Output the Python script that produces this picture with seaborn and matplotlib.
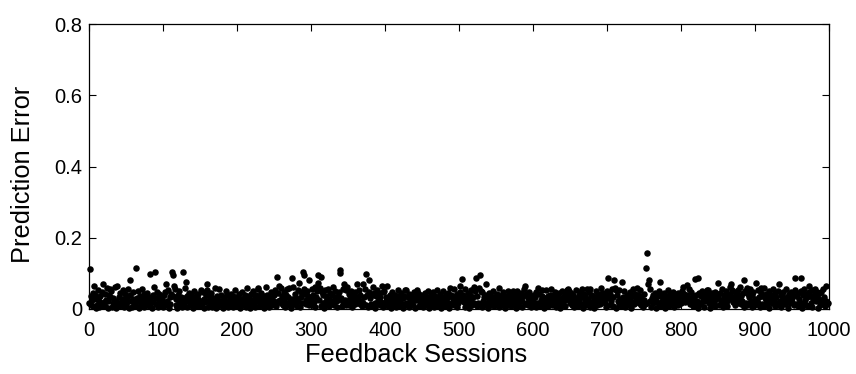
import numpy as np
import pandas as pd
import matplotlib
matplotlib.use("Agg")
import matplotlib.pyplot as plt
import seaborn as sns

# Per-session prediction error, in thousandths (sessions 0..999)
band_error_milli = [
    16, 4, 35, 10, 25, 46, 7, 18, 40, 3, 29, 12, 53, 21, 5, 36, 14, 48, 8, 31,
    20, 43, 9, 26, 58, 4, 23, 38, 13, 34, 49, 6, 17, 30, 10, 61, 22, 3, 39, 16,
    33, 8, 44, 18, 27, 12, 52, 5, 25, 42,
    9, 34, 20, 56, 4, 14, 38, 23, 6, 47, 29, 12, 18, 40, 8, 31, 51, 3, 22, 36,
    16, 57, 10, 27, 43, 5, 21, 35, 13, 46, 25, 8, 55, 17, 33, 4, 39, 20, 62, 12,
    30, 14, 48, 6, 26, 42, 18, 9, 34, 23,
    5, 38, 17, 47, 27, 10, 22, 52, 3, 33, 14, 43, 25, 8, 35, 20, 57, 12, 29, 4,
    40, 18, 49, 9, 23, 34, 6, 44, 16, 30, 60, 13, 36, 5, 21, 46, 26, 10, 39, 17,
    31, 3, 51, 22, 12, 35, 8, 27, 42, 18,
    23, 9, 33, 16, 48, 4, 29, 20, 39, 12, 53, 6, 25, 36, 14, 44, 5, 21, 31, 10,
    46, 17, 3, 35, 26, 8, 56, 13, 22, 40, 18, 4, 34, 27, 12, 49, 16, 38, 6, 23,
    30, 9, 43, 20, 5, 36, 14, 52, 25, 8,
    34, 13, 22, 42, 4, 27, 18, 47, 10, 31, 16, 38, 6, 25, 58, 12, 35, 20, 3, 43,
    26, 9, 49, 17, 30, 5, 39, 21, 14, 55, 8, 33, 23, 46, 12, 29, 4, 36, 18, 61,
    13, 40, 25, 6, 34, 17, 48, 10, 27, 21,
    38, 14, 52, 8, 30, 22, 44, 4, 26, 60, 18, 35, 10, 47, 25, 6, 40, 16, 56, 33,
    12, 49, 21, 3, 36, 27, 62, 13, 43, 20, 31, 9, 53, 23, 39, 5, 34, 48, 17, 29,
    57, 8, 42, 25, 14, 51, 35, 10, 46, 21,
    27, 55, 12, 39, 20, 62, 6, 34, 49, 16, 43, 25, 58, 9, 31, 47, 18, 38, 4, 52,
    22, 35, 13, 57, 29, 8, 46, 23, 40, 17, 61, 10, 33, 51, 21, 5, 36, 26, 48, 14,
    44, 30, 9, 56, 20, 39, 25, 12, 53, 34,
    18, 42, 10, 31, 50, 22, 6, 36, 26, 14, 47, 20, 34, 4, 29, 53, 13, 39, 23, 9,
    43, 17, 33, 57, 12, 25, 38, 5, 48, 21, 30, 14, 40, 8, 27, 46, 18, 3, 35, 52,
    16, 23, 44, 10, 33, 20, 39, 6, 26, 49,
    13, 34, 22, 43, 8, 29, 17, 38, 4, 25, 47, 12, 31, 20, 40, 5, 26, 16, 49, 35,
    9, 21, 44, 14, 30, 3, 36, 23, 52, 18, 10, 33, 42, 6, 27, 17, 39, 22, 12, 48,
    31, 4, 25, 36, 16, 46, 8, 29, 20, 40,
    14, 35, 5, 26, 44, 18, 10, 33, 49, 22, 3, 29, 39, 13, 25, 47, 17, 6, 36, 21,
    31, 53, 9, 23, 42, 16, 4, 34, 27, 51, 12, 20, 38, 8, 30, 46, 18, 2, 26, 40,
    14, 33, 22, 55, 10, 35, 25, 5, 43, 17,
    29, 48, 16, 36, 9, 23, 40, 20, 57, 6, 31, 14, 46, 26, 4, 38, 21, 52, 12, 34,
    17, 43, 49, 25, 8, 35, 18, 58, 13, 42, 27, 5, 47, 22, 33, 10, 39, 55, 16, 30,
    3, 44, 23, 12, 36, 20, 51, 8, 27, 18,
    35, 13, 43, 25, 53, 6, 31, 18, 39, 10, 47, 22, 4, 29, 16, 36, 58, 12, 26, 44,
    20, 8, 34, 49, 14, 40, 23, 3, 33, 52, 17, 38, 9, 27, 46, 21, 5, 35, 56, 13,
    25, 42, 16, 31, 10, 48, 20, 36, 6, 29,
    22, 39, 12, 33, 5, 47, 18, 27, 14, 43, 9, 25, 36, 52, 17, 3, 31, 21, 46, 13,
    35, 8, 26, 40, 20, 55, 10, 30, 16, 38, 48, 6, 23, 34, 13, 44, 27, 4, 20, 51,
    31, 14, 36, 9, 25, 42, 17, 57, 29, 12,
    34, 18, 46, 10, 27, 39, 5, 22, 53, 16, 30, 8, 38, 25, 48, 13, 33, 20, 4, 43,
    23, 35, 12, 56, 17, 29, 47, 6, 26, 40, 14, 36, 21, 3, 31, 51, 18, 10, 42, 25,
    34, 13, 60, 22, 9, 38, 27, 46, 16, 5,
    30, 49, 20, 35, 12, 42, 23, 57, 8, 33, 17, 46, 26, 4, 38, 21, 53, 14, 29, 9,
    44, 22, 34, 16, 51, 6, 31, 39, 18, 25, 10, 47, 27, 3, 36, 20, 56, 13, 43, 23,
    33, 8, 40, 17, 29, 52, 12, 35, 21, 5,
    26, 43, 14, 34, 48, 18, 10, 38, 22, 55, 6, 30, 40, 16, 25, 46, 4, 33, 20, 36,
    12, 49, 27, 8, 39, 21, 31, 14, 44, 3, 23, 35, 17, 52, 9, 29, 42, 20, 13, 34,
    47, 5, 25, 38, 16, 30, 10, 46, 22, 18,
    36, 16, 51, 9, 27, 43, 20, 33, 5, 39, 23, 55, 13, 31, 47, 17, 8, 35, 25, 58,
    12, 40, 21, 29, 4, 46, 18, 36, 14, 49, 26, 6, 34, 22, 42, 10, 30, 53, 17, 38,
    3, 25, 44, 14, 33, 20, 48, 9, 27, 39,
    21, 35, 12, 46, 26, 16, 56, 6, 31, 40, 18, 49, 23, 9, 38, 29, 4, 43, 14, 34,
    52, 20, 25, 10, 47, 33, 17, 39, 8, 27, 61, 13, 36, 22, 44, 5, 30, 51, 18, 26,
    12, 42, 34, 16, 57, 23, 6, 38, 48, 20,
    29, 10, 40, 22, 52, 17, 34, 5, 46, 25, 14, 36, 58, 8, 30, 20, 43, 13, 27, 49,
    3, 35, 21, 39, 16, 55, 26, 9, 44, 33, 18, 51, 12, 31, 23, 40, 6, 36, 17, 47,
    27, 13, 56, 21, 34, 4, 42, 25, 16, 48,
    31, 20, 39, 10, 53, 25, 14, 35, 46, 8, 29, 18, 49, 22, 4, 38, 16, 57, 26, 12,
    43, 33, 9, 47, 21, 36, 17, 52, 5, 27, 40, 13, 34, 23, 48, 3, 30, 44, 20, 10,
    38, 25, 55, 16, 33, 8, 42, 22, 14, 18,
]

# Sessions with larger errors, and their errors in thousandths
peak_sessions = [
    1, 7, 19, 28, 38, 55, 63, 82, 89, 104, 112, 113, 115, 127, 131, 152, 159,
    170, 228, 239, 254, 257, 271, 274, 284, 289, 291, 298, 309, 310, 314, 339,
    340, 345, 349, 363, 370, 375, 379, 384, 396, 398, 403, 418, 427, 444, 488,
    502, 504, 521, 523, 529, 530, 537, 554, 566, 579, 590, 607, 618, 646, 649,
    667, 678, 694, 702, 710, 711, 712, 720, 741, 753, 754, 756, 757, 772, 803,
    808, 819, 823, 835, 850, 866, 868, 878, 886, 889, 902, 909, 933, 955, 963,
    974, 981, 990, 996,
]
peak_error_milli = [
    111, 65, 69, 56, 65, 81, 116, 97, 105, 69, 103, 94, 65, 103, 75, 53, 70,
    58, 58, 63, 89, 65, 58, 88, 72, 103, 96, 81, 96, 72, 89, 110,
    100, 70, 63, 70, 70, 98, 81, 62, 65, 48, 64, 53, 52, 53, 58,
    65, 83, 62, 86, 94, 50, 70, 58, 50, 51, 65, 58, 54, 54, 50,
    55, 57, 45, 88, 81, 60, 53, 75, 58, 116, 156, 70, 81, 75, 63,
    66, 83, 88, 53, 72, 63, 70, 52, 81, 58, 72, 58, 70, 88, 88,
    65, 55, 48, 65,
]

errors = np.array(band_error_milli, dtype=float) / 1000.0
sessions = np.arange(len(errors))
for s, e in zip(peak_sessions, peak_error_milli):
    if s < len(errors):
        errors[s] = e / 1000.0

df = pd.DataFrame({"session": sessions, "error": errors})

sns.set_style("ticks")
plt.rcParams["font.family"] = ["Liberation Sans", "DejaVu Sans"]

fig = plt.figure(figsize=(8.56, 3.74), dpi=100)
ax = fig.add_axes([0.104, 0.174, 0.864, 0.761])

sns.scatterplot(data=df, x="session", y="error", ax=ax, color="black",
                s=22, linewidth=0, clip_on=False, legend=False)

ax.set_xlim(0, 1000)
ax.set_ylim(0, 0.8)
ax.set_xticks(np.arange(0, 1001, 100))
ax.set_yticks([0, 0.2, 0.4, 0.6, 0.8])
ax.set_yticklabels(["0", "0.2", "0.4", "0.6", "0.8"])
ax.tick_params(direction="in", top=True, right=True, length=5, width=0.8,
               labelsize=14.5, colors="black")
ax.tick_params(axis="x", pad=9)
ax.tick_params(axis="y", pad=5)
for sp in ax.spines.values():
    sp.set_visible(True)
    sp.set_color("black")
    sp.set_linewidth(0.9)

ax.set_xlabel("Feedback Sessions", fontsize=18.3, labelpad=2, color="black")
ax.set_ylabel("Prediction Error", fontsize=18.3, labelpad=14, color="black")
ax.xaxis.label.set_x(0.442)
ax.yaxis.label.set_y(0.471)

fig.savefig("out.png", dpi=100)
